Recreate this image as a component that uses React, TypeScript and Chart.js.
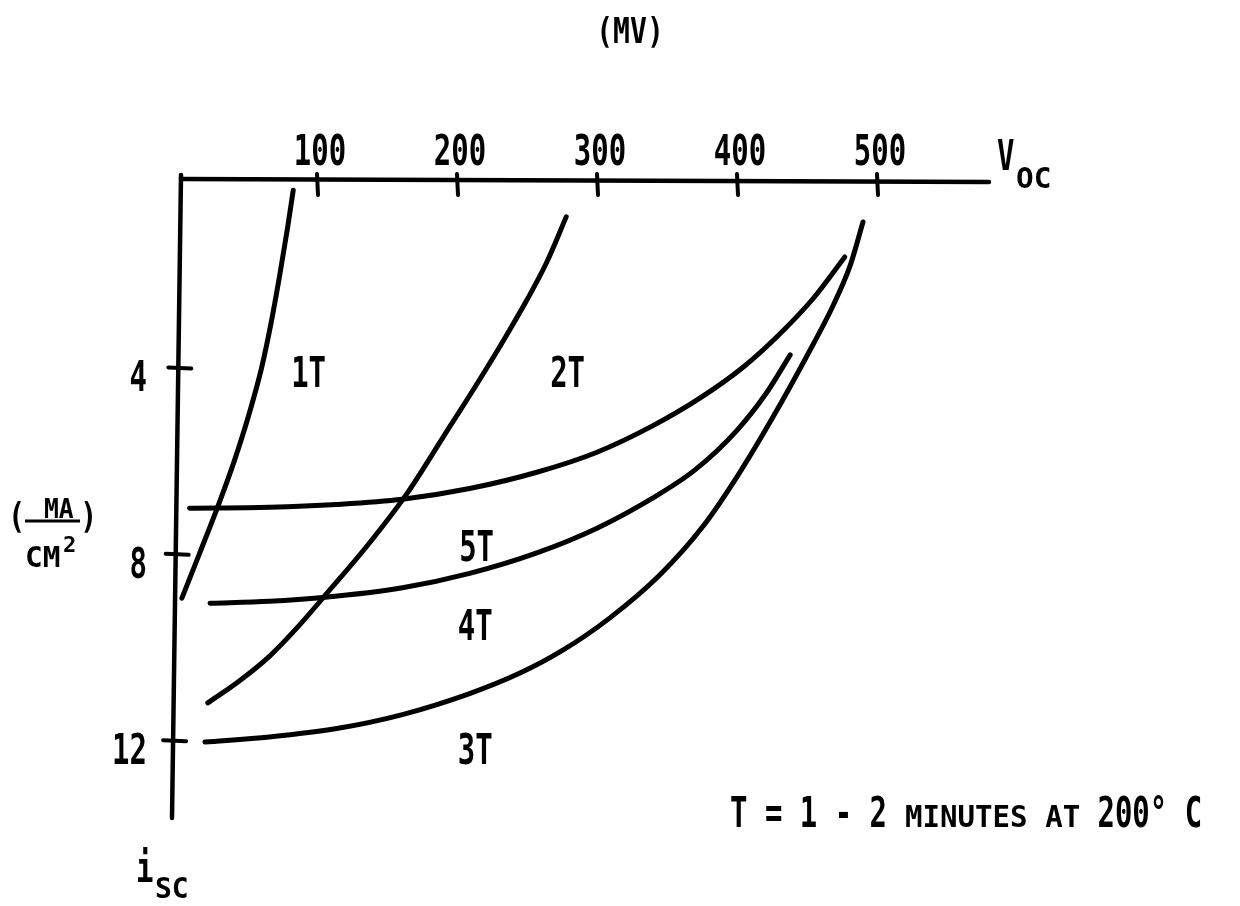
import React, { useEffect, useRef } from "react";
import { Chart, registerables } from "chart.js";

Chart.register(...registerables);

// ---- data (Voc in mV, Isc in mA/cm^2) ----
const xTicks = [100, 200, 300, 400, 500];
const yTicks = [4, 8, 12];

const curveNames = ["1T", "2T", "3T", "4T", "5T"];

const v1T = [83, 79, 73.5, 67.5, 60.5, 51.5, 41, 29, 16, 3.5];
const i1T = [0.2, 1, 2, 3, 4, 5, 6, 7, 8, 8.95];

const v2T = [278, 264, 250, 235, 216, 190, 164, 135, 107, 86, 66, 44, 22];
const i2T = [0.77, 1.75, 2.55, 3.33, 4.27, 5.5, 6.72, 7.86, 8.85, 9.58, 10.2, 10.74, 11.2];

const v3T = [490, 481, 469, 450, 426, 401, 376, 345, 309, 275, 245, 209, 161, 114, 66, 20];
const i3T = [0.88, 1.8, 2.65, 3.75, 5.05, 6.3, 7.4, 8.45, 9.38, 10.08, 10.56, 11.0, 11.45, 11.75, 11.93, 12.04];

const v4T = [438, 421, 400, 370, 340, 300, 257, 209, 161, 104, 66, 23.6];
const i4T = [3.73, 4.55, 5.35, 6.2, 6.8, 7.45, 7.98, 8.42, 8.73, 8.94, 9.02, 9.06];

const v5T = [477, 455, 430, 405, 374, 340, 300, 257, 209, 161, 114, 66, 9];
const i5T = [1.63, 2.5, 3.3, 3.98, 4.65, 5.25, 5.82, 6.25, 6.6, 6.83, 6.94, 7.0, 7.02];

const curveV = [v1T, v2T, v3T, v4T, v5T];
const curveI = [i1T, i2T, i3T, i4T, i5T];

// curve label centres (mV, mA/cm^2)
const labelV = [94, 279, 213, 213, 214];
const labelI = [4.1, 4.1, 12.19, 9.53, 7.83];

const xMin = 0;
const xMax = 580;
const yMin = 0;
const yMax = 14;

const FONT = "'DejaVu Sans Mono', 'Liberation Mono', monospace";

function txt(
  ctx: CanvasRenderingContext2D,
  s: string,
  x: number,
  y: number,
  size: number,
  sx: number,
  align: CanvasTextAlign = "left"
) {
  ctx.save();
  ctx.font = `bold ${size}px ${FONT}`;
  ctx.fillStyle = "#000";
  ctx.textBaseline = "alphabetic";
  ctx.textAlign = align;
  ctx.translate(x, y);
  ctx.scale(sx, 1);
  ctx.fillText(s, 0, 0);
  ctx.restore();
}

function seg(ctx: CanvasRenderingContext2D, x1: number, y1: number, x2: number, y2: number) {
  ctx.beginPath();
  ctx.moveTo(x1, y1);
  ctx.lineTo(x2, y2);
  ctx.stroke();
}

const overlay = {
  id: "overlay",
  beforeDatasetsDraw(chart: any) {
    const ctx: CanvasRenderingContext2D = chart.ctx;
    const xs = chart.scales.x;
    const ys = chart.scales.y;
    const x0 = xs.getPixelForValue(0);
    const y0 = ys.getPixelForValue(0);
    ctx.save();
    ctx.strokeStyle = "#000";
    ctx.lineCap = "round";
    ctx.lineWidth = 4.5;
    // horizontal (Voc) axis
    seg(ctx, x0 + 4, y0 - 2, xs.getPixelForValue(xMax), y0 + 1);
    // vertical (Isc) axis, slightly slanted like the hand drawing
    const yTop = y0 - 6;
    const yBot = ys.getPixelForValue(13.67);
    const axX = (py: number) => x0 + 4 - (9 * (py - yTop)) / (yBot - yTop);
    seg(ctx, x0 + 4, yTop, x0 - 5, yBot);
    // x ticks
    ctx.lineWidth = 4;
    xTicks.forEach((v) => {
      const px = xs.getPixelForValue(v);
      seg(ctx, px, y0 - 7, px + 1, y0 + 14);
    });
    // y ticks
    yTicks.forEach((v) => {
      const py = ys.getPixelForValue(v);
      const ax = axX(py);
      seg(ctx, ax - 10, py, ax + 13, py + 1);
    });
    ctx.restore();
  },
  afterDatasetsDraw(chart: any) {
    const ctx: CanvasRenderingContext2D = chart.ctx;
    const xs = chart.scales.x;
    const ys = chart.scales.y;
    const y0 = ys.getPixelForValue(0);
    const big = 42;
    const bsx = 0.69;
    // x tick labels
    xTicks.forEach((v) => {
      txt(ctx, String(v), xs.getPixelForValue(v) + 3, y0 - 16, big, bsx, "center");
    });
    // y tick labels
    yTicks.forEach((v) => {
      txt(ctx, String(v), 147, ys.getPixelForValue(v) + 24, big, bsx, "right");
    });
    // curve labels
    curveNames.forEach((n, k) => {
      txt(ctx, n, xs.getPixelForValue(labelV[k]), ys.getPixelForValue(labelI[k]) + 15, big, bsx, "center");
    });
    // axis titles
    txt(ctx, "V", 997, 170, big, bsx, "left");
    txt(ctx, "OC", 1016, 188, 28, 1.05, "left");
    txt(ctx, "i", 136, 882, big, bsx, "left");
    txt(ctx, "SC", 155, 898, 28, 1.0, "left");
    txt(ctx, "(MV)", 630, 43, 36, 0.78, "center");
    // unit fraction (mA / cm^2)
    txt(ctx, "(", 8, 528, 36, 0.8, "left");
    txt(ctx, ")", 80, 528, 36, 0.8, "left");
    txt(ctx, "MA", 44, 518, 26, 0.95, "left");
    ctx.save();
    ctx.strokeStyle = "#000";
    ctx.lineWidth = 3;
    seg(ctx, 25, 521, 80, 521);
    ctx.restore();
    txt(ctx, "CM", 25, 567, 28, 1.05, "left");
    txt(ctx, "2", 63, 552, 22, 1.0, "left");
    // note
    txt(ctx, "T = 1 - 2 ", 730, 827, big, bsx, "left");
    txt(ctx, "MINUTES AT", 905, 827, 30, 0.97, "left");
    txt(ctx, " 200\u00B0 C", 1080, 827, big, bsx, "left");
  },
};

export default function App() {
  const ref = useRef<HTMLCanvasElement | null>(null);
  useEffect(() => {
    if (!ref.current) return;
    const datasets = curveNames.map((name, k) => ({
      label: name,
      data: curveV[k].map((v, i) => ({ x: v, y: curveI[k][i] })),
      showLine: true,
      borderColor: "#000",
      backgroundColor: "#000",
      borderWidth: 5,
      pointRadius: 0,
      cubicInterpolationMode: "monotone" as const,
      borderCapStyle: "round" as const,
      borderJoinStyle: "round" as const,
      clip: false as any,
    }));
    const chart = new Chart(ref.current, {
      type: "scatter",
      data: { datasets },
      options: {
        animation: false,
        responsive: false,
        devicePixelRatio: 1,
        layout: { padding: { left: 177, right: 251, top: 181, bottom: 72.6 } },
        plugins: { legend: { display: false }, tooltip: { enabled: false } },
        events: [],
        scales: {
          x: { type: "linear", min: xMin, max: xMax, display: false },
          y: { type: "linear", min: yMin, max: yMax, reverse: true, display: false },
        },
      },
      plugins: [overlay],
    });
    return () => chart.destroy();
  }, []);
  return (
    <div style={{ position: "absolute", left: 0, top: 0, width: 1240, height: 906, background: "#fff" }}>
      <canvas ref={ref} width={1240} height={906} />
    </div>
  );
}
